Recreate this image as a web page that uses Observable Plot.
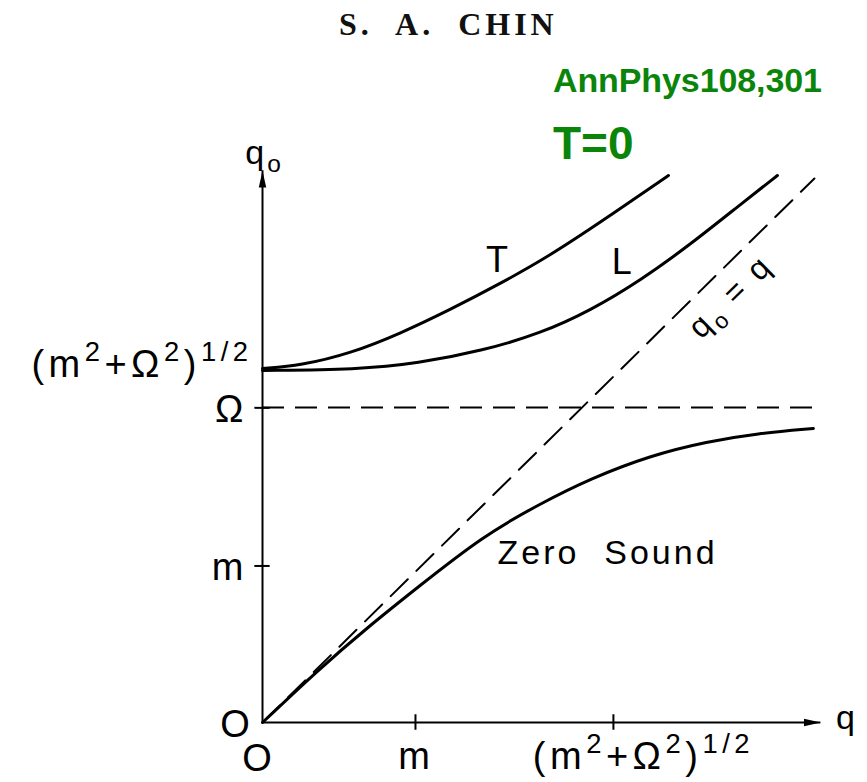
<!DOCTYPE html>
<html><head><meta charset="utf-8">
<script src="https://cdn.jsdelivr.net/npm/d3@7"></script>
<script src="https://cdn.jsdelivr.net/npm/@observablehq/plot@0.6"></script>
<style>
body{margin:0;background:#fff;}
#wrap{position:relative;width:867px;height:782px;overflow:hidden;}
#wrap svg{position:absolute;left:0;top:0;}
.hdr{position:absolute;white-space:pre;line-height:1;}
#author{left:339px;top:8px;font-family:"Liberation Serif","Times New Roman",serif;font-size:32px;font-weight:bold;letter-spacing:4px;color:#111;}
#ref{left:553px;top:63px;font-family:"Liberation Sans",Arial,sans-serif;font-size:34px;color:#0a850a;font-weight:bold;letter-spacing:-0.1px;}
#temp{left:553px;top:120px;font-family:"Liberation Sans",Arial,sans-serif;font-size:46px;color:#0a850a;font-weight:bold;}
</style></head><body><div id="wrap"></div>
<script>
// ---- data (units of m) ----
const transverseQ  = [0, 0.248, 0.575, 0.902, 1.229, 1.556, 1.882, 2.255, 2.654];
const transverseQ0 = [2.284, 2.303, 2.381, 2.510, 2.665, 2.832, 3.013, 3.258, 3.529];
const longitudinalQ  = [0, 0.621, 1.013, 1.444, 1.817, 2.144, 2.471, 2.797, 3.124, 3.366];
const longitudinalQ0 = [2.271, 2.277, 2.316, 2.400, 2.510, 2.658, 2.852, 3.084, 3.342, 3.529];
const zeroSoundQ  = [0, 0.359, 0.686, 1.013, 1.444, 1.817, 2.144, 2.536, 2.908, 3.235, 3.601];
const zeroSoundQ0 = [0, 0.335, 0.613, 0.871, 1.205, 1.413, 1.574, 1.723, 1.813, 1.865, 1.897];
const lightConeQ  = [0, 3.608];
const lightConeQ0 = [0, 3.510];
const omegaLevel = 2.032;
const omegaLineEnd = 3.614;
const axisEnds = [3.65, 3.56];          // q, q0
const xTickValues = [1.0, 2.294];
const xTickLabels = ["m", "(m^{2}+Ω^{2})^{1/2}"];
const yTickValues = [1.01, 2.03];
const yTickLabels = ["m", "Ω"];
const yExtraValue = 2.284;
const yExtraLabel = "(m^{2}+Ω^{2})^{1/2}";
const originLabel = "O";
const axisNames = ["q", "q_{o}"];
const curveNames = ["T", "L", "Zero  Sound", "q_{o} = q"];

const zip = (a, b) => a.map((v, i) => ({x: v, y: b[i]}));
const T = zip(transverseQ, transverseQ0);
const L = zip(longitudinalQ, longitudinalQ0);
const Z = zip(zeroSoundQ, zeroSoundQ0);
const D = zip(lightConeQ, lightConeQ0);

const arrowHead = {
  draw(ctx, size) {
    const s = Math.sqrt(size);
    const h = s * 1.9, w = s * 0.42;
    ctx.moveTo(0, 0);
    ctx.lineTo(-w, h);
    ctx.lineTo(w, h);
    ctx.closePath();
  }
};

const font = "Liberation Sans, Arial, sans-serif";
const curve = "basis";
const chart = Plot.plot({
  width: 867, height: 782,
  marginLeft: 0, marginRight: 0, marginTop: 0, marginBottom: 0,
  x: {domain: [0, 3.7], range: [262, 828], axis: null},
  y: {domain: [0, 3.6], range: [722, 164], axis: null},
  style: {fontFamily: font, background: "transparent", color: "#000"},
  marks: [
    // axes
    Plot.ruleX([0], {y1: 0, y2: axisEnds[1], stroke: "#000", strokeWidth: 2}),
    Plot.ruleY([0], {x1: 0, x2: axisEnds[0], stroke: "#000", strokeWidth: 2}),
    Plot.dot([{x: 0, y: axisEnds[1], r: 0}, {x: axisEnds[0], y: 0, r: 90}],
      {x: "x", y: "y", rotate: "r", symbol: arrowHead, r: 5, fill: "#000", stroke: "none"}),
    Plot.ruleX(xTickValues, {y1: -0.05, y2: 0.05, stroke: "#000", strokeWidth: 2}),
    Plot.ruleY(yTickValues, {x1: -0.05, x2: 0.05, stroke: "#000", strokeWidth: 2}),
    // dashed references
    Plot.ruleY([omegaLevel], {x1: 0, x2: omegaLineEnd, stroke: "#000", strokeWidth: 2, strokeDasharray: "22,11"}),
    Plot.line(D, {x: "x", y: "y", stroke: "#000", strokeWidth: 2, strokeDasharray: "24,12"}),
    // curves
    Plot.line(T, {x: "x", y: "y", stroke: "#000", strokeWidth: 3, curve}),
    Plot.line(L, {x: "x", y: "y", stroke: "#000", strokeWidth: 3, curve}),
    Plot.line(Z, {x: "x", y: "y", stroke: "#000", strokeWidth: 3, curve}),
    // tick labels
    Plot.text([xTickValues[0]], {x: d => d, y: 0, text: [xTickLabels[0]], dy: 34, fontSize: 38, fill: "#000"}),
    Plot.text([xTickValues[1]], {x: d => d, y: 0, text: [xTickLabels[1]], dx: 30, dy: 34, fontSize: 38, fill: "#000"}),
    Plot.text(yTickValues, {x: 0, y: d => d, text: (d, i) => yTickLabels[i], dx: -16, dy: 2, textAnchor: "end", fontSize: 38, fill: "#000"}),
    Plot.text([yExtraValue], {x: 0, y: d => d, text: [yExtraLabel], dx: -10, dy: -4, textAnchor: "end", fontSize: 38, fill: "#000"}),
    Plot.text([0], {x: 0, y: 0, text: [originLabel], dx: -26, dy: 2, fontSize: 38, fill: "#000"}),
    Plot.text([0], {x: 0, y: 0, text: [originLabel], dx: -4, dy: 36, fontSize: 38, fill: "#000"}),
    // axis names
    Plot.text([0], {x: axisEnds[0], y: 0, text: [axisNames[0]], dx: 26, dy: -4, fontSize: 34, fill: "#000"}),
    Plot.text([0], {x: 0, y: axisEnds[1], text: [axisNames[1]], dx: 2, dy: -18, fontSize: 34, fill: "#000"}),
    // curve names
    Plot.text([0], {x: 1.542, y: 2.981, text: [curveNames[0]], fontSize: 36, fill: "#000"}),
    Plot.text([0], {x: 2.359, y: 2.968, text: [curveNames[1]], fontSize: 36, fill: "#000"}),
    Plot.text([0], {x: 1.536, y: 1.09, text: [curveNames[2]], textAnchor: "start", fontSize: 34, fill: "#000"}),
    Plot.text([0], {x: 3.059, y: 2.748, text: [curveNames[3]], rotate: -44.5, fontSize: 32, fill: "#000"})
  ]
});

const wrap = document.getElementById("wrap");
wrap.appendChild(chart);

chart.querySelectorAll("text").forEach(t => {
  t.style.whiteSpace = "pre";
  t.setAttribute("letter-spacing", /\^\{/.test(t.textContent) ? "4.5" : "3");
});

function richify(svg) {
  svg.querySelectorAll("text").forEach(t => {
    const s = t.textContent;
    if (!/[\^_]\{/.test(s)) return;
    const fs = parseFloat(getComputedStyle(t).fontSize) || 30;
    while (t.firstChild) t.removeChild(t.firstChild);
    const re = /([\^_])\{([^}]*)\}|([^\^_]+)/g;
    let cur = 0, m;
    while ((m = re.exec(s))) {
      const ts = document.createElementNS("http://www.w3.org/2000/svg", "tspan");
      let target = 0;
      if (m[1]) {
        target = m[1] === "^" ? -0.42 * fs : 0.25 * fs;
        ts.setAttribute("font-size", (0.72 * fs).toFixed(1));
        ts.textContent = m[2];
      } else {
        ts.textContent = m[3];
      }
      ts.setAttribute("dy", (target - cur).toFixed(1));
      cur = target;
      t.appendChild(ts);
    }
  });
}
richify(chart);

const hdr = [["author", "S.  A.  CHIN"], ["temp", "T=0"]];
hdr.forEach(([id, txt]) => { const d = document.createElement("div"); d.className = "hdr"; d.id = id; d.textContent = txt; wrap.appendChild(d); });
const ref = document.createElement("div"); ref.className = "hdr"; ref.id = "ref";
ref.innerHTML = "AnnPhys<span style='font-weight:900'>108</span>,301";
wrap.appendChild(ref);
</script>
</body></html>
